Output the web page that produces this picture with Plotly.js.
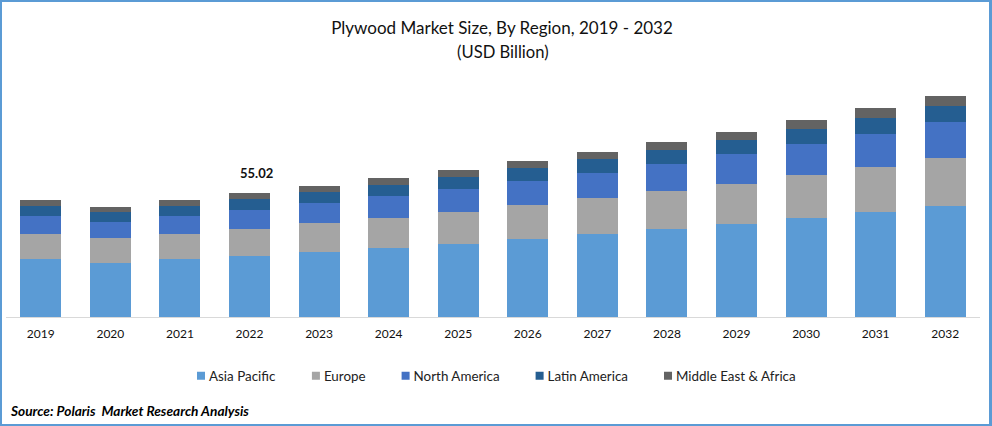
<!DOCTYPE html>
<html>
<head>
<meta charset="utf-8">
<script src="https://cdn.plot.ly/plotly-3.0.1.min.js"></script>
<style>
html,body{margin:0;padding:0;background:#fff;overflow:hidden}
#chart{width:992px;height:426px;position:absolute;left:0;top:0}
#frame{position:absolute;left:0;top:0;width:992px;height:426px;box-sizing:border-box;border:solid #5B9BD5;border-width:2px 3px 2px 2px;pointer-events:none}
#chart .legend .legendpoints path{transform:translate(35px,0) scale(0.667)}
</style>
</head>
<body>
<div id="chart"></div>
<div id="frame"></div>
<script>
const years = ['2019','2020','2021','2022','2023','2024','2025','2026','2027','2028','2029','2030','2031','2032'];
const asiaPacific = [25.74,23.96,25.74,27.07,28.84,30.62,32.39,34.61,36.83,39.05,41.27,43.93,46.59,49.25];
const europe = [11.09,11.09,11.09,11.98,12.87,13.31,14.20,15.09,15.97,16.86,17.75,19.08,19.97,21.30];
const northAmerica = [7.99,7.10,7.99,8.43,8.87,9.76,10.21,10.65,11.09,11.98,13.31,13.76,14.64,15.97];
const latinAmerica = [4.44,4.44,4.44,4.88,4.88,4.88,5.32,5.77,6.21,6.21,6.21,6.66,7.10,7.10];
const middleEastAfrica = [2.66,2.22,2.66,2.66,2.66,3.11,3.11,3.11,3.11,3.55,3.55,3.99,4.44,4.44];
const labelYear = '2022';
const labelValue = '55.02';

const font = 'Lato, "Noto Sans", sans-serif';
const series = [
  ['Asia Pacific', asiaPacific, '#5B9BD5'],
  ['Europe', europe, '#A5A5A5'],
  ['North America', northAmerica, '#4472C4'],
  ['Latin America', latinAmerica, '#255E91'],
  ['Middle East & Africa', middleEastAfrica, '#636363']
];
const traces = series.map(([name, y, color]) => ({
  type: 'bar', name, x: years, y, marker: {color, line: {width: 0}}, hoverinfo: 'x+y+name'
}));
const li = years.indexOf(labelYear);
const labelTotal = series.reduce((s, d) => s + d[1][li], 0);

// pixel helpers for the non-data text placed around the plot
const L = 5.7, W = 974.4, T = 60, H = 257;
const px = v => (v - L) / W;
const py = v => (T + H - v) / H;

const layout = {
  width: 992, height: 426, autosize: false,
  paper_bgcolor: '#fff', plot_bgcolor: '#fff',
  barmode: 'stack', bargap: 0.411,
  margin: {l: L, r: 992 - L - W, t: T, b: 426 - T - H, pad: 0},
  font: {family: font, color: '#000'},
  title: {
    text: 'Plywood Market Size, By Region, 2019 - 2032',
    font: {family: font, size: 17, color: '#111'},
    x: 502 / 992, xref: 'container', xanchor: 'center',
    y: 1 - 28 / 426, yref: 'container', yanchor: 'middle'
  },
  xaxis: {
    type: 'category', categoryorder: 'array', categoryarray: years,
    range: [-0.5, 13.5], showgrid: false, zeroline: false,
    showline: true, linecolor: '#D9D9D9', linewidth: 1,
    ticks: '', ticklabelstandoff: 6,
    tickfont: {family: font, size: 12, color: '#111'}
  },
  yaxis: {range: [0, 114.04], visible: false, showgrid: false, zeroline: false},
  legend: {
    orientation: 'h', x: 166 / 992, xref: 'container', xanchor: 'left',
    y: 1 - 376 / 426, yref: 'container', yanchor: 'middle', traceorder: 'normal',
    itemwidth: 33,
    font: {family: font, size: 13.4, color: '#222'}, itemclick: false, itemdoubleclick: false
  },
  annotations: [
    {x: px(502.5), y: py(52), xref: 'paper', yref: 'paper', text: '(USD Billion)', showarrow: false,
     xanchor: 'center', yanchor: 'middle', font: {family: font, size: 16.6, color: '#111'}},
    {x: li, y: labelTotal, xref: 'x', yref: 'y', text: '<b>' + labelValue + '</b>', showarrow: false,
     xshift: 6.5, yanchor: 'bottom', yshift: 10, font: {family: font, size: 13, color: '#111'}},
    {x: px(8), y: py(410), xref: 'paper', yref: 'paper', xanchor: 'left', yanchor: 'middle',
     text: '<b><i>Source: Polaris  Market Research Analysis</i></b>', showarrow: false,
     font: {family: font, size: 13.7, color: '#000'}}
  ]
};
Plotly.newPlot('chart', traces, layout, {displayModeBar: false, staticPlot: true});
</script>
</body>
</html>
